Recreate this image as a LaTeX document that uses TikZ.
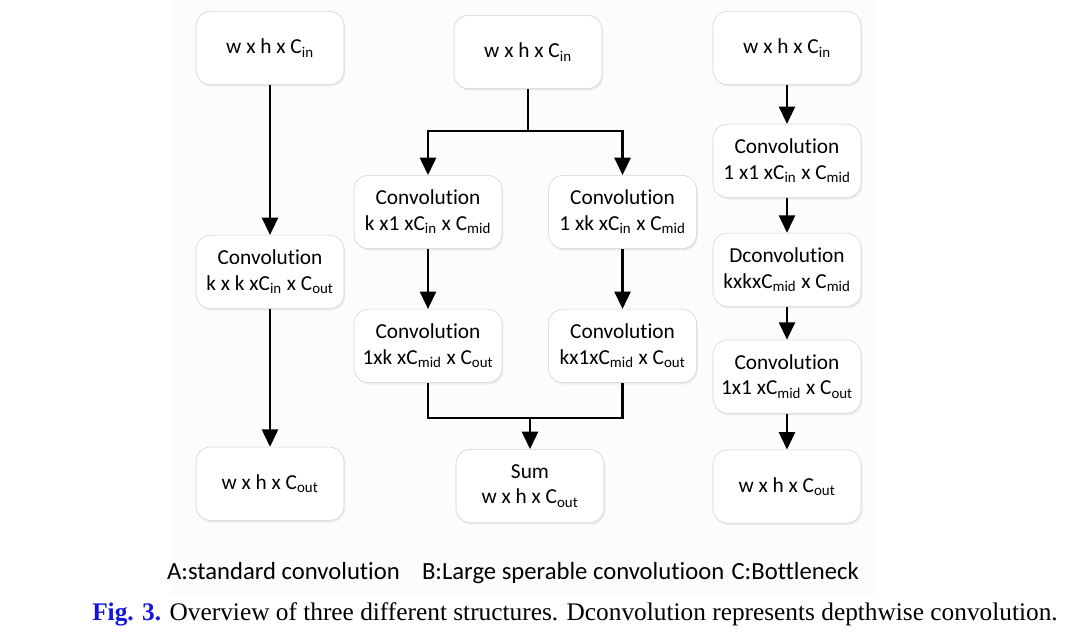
\documentclass[tikz,border=0pt]{standalone}
\usepackage{fontspec}
\setmainfont{Liberation Serif}
\newfontfamily\calfont[Ligatures={NoCommon}, Contextuals={NoAlternate}]{Carlito}
\usepackage{xcolor}
\usepackage{tikz}
\usetikzlibrary{arrows.meta, positioning, calc, shadows}
\definecolor{figblue}{RGB}{20,20,225}
\definecolor{panelbg}{RGB}{252,252,252}
\definecolor{boxline}{RGB}{210,210,210}
\newcommand{\sub}[1]{\textsubscript{#1}}
\tikzset{
  layer/.style={
    draw=boxline,
    fill=white,
    thin,
    rounded corners=11pt,
    align=center,
    inner sep=3pt,
    minimum width=111pt,
    minimum height=55pt,
    drop shadow={shadow xshift=1pt, shadow yshift=-1.5pt, opacity=0.12}
  },
  flow/.style={-{Triangle[length=13pt,width=12pt]}, line width=1.8pt},
  joint/.style={line width=1.8pt}
}
\begin{document}
\begin{tikzpicture}[
    font=\calfont\fontsize{16}{19}\selectfont
]
\useasboundingbox (0,0) rectangle (809.25pt,-477pt);
\fill[panelbg] (127.5pt,0) rectangle (656.25pt,-446pt);

\node[layer] (ain) at (202.5pt,-36pt) {w x h x C\sub{in}};
\node[layer, below=112.5pt of ain] (aconv)
{Convolution\\k x k xC\sub{in} x C\sub{out}};
\node[layer, below=103.5pt of aconv] (aout) {w x h x C\sub{out}};

\node[layer] (bin) at (396pt,-39pt) {w x h x C\sub{in}};
\node[layer] (bc1) at (321pt,-159pt)
{Convolution\\k x1 xC\sub{in} x C\sub{mid}};
\node[layer, right=34.5pt of bc1] (bc2)
{Convolution\\1 xk xC\sub{in} x C\sub{mid}};
\node[layer, below=45pt of bc1] (bc3)
{Convolution\\1xk xC\sub{mid} x C\sub{out}};
\node[layer, below=45pt of bc2] (bc4)
{Convolution\\kx1xC\sub{mid} x C\sub{out}};
\node[layer] (bsum) at (397.5pt,-364.5pt) {Sum\\w x h x C\sub{out}};

\node[layer] (cin) at (590.25pt,-36pt) {w x h x C\sub{in}};
\node[layer, below=29.25pt of cin] (cc1)
{Convolution\\1 x1 xC\sub{in} x C\sub{mid}};
\node[layer, below=26.25pt of cc1] (cdw)
{Dconvolution\\kxkxC\sub{mid} x C\sub{mid}};
\node[layer, below=24.75pt of cdw] (cc3)
{Convolution\\1x1 xC\sub{mid} x C\sub{out}};
\node[layer, below=27pt of cc3] (cout) {w x h x C\sub{out}};

\coordinate (bsplit) at ($(bin.south)+(0,-31.5pt)$);
\coordinate (bmerge) at ($(bsum.north)+(0,23.25pt)$);

\draw[flow] (ain) -- (aconv);
\draw[flow] (aconv) -- (aout);

\draw[joint] (bin.south) -- (bsplit);
\draw[flow] (bsplit) -| (bc1.north);
\draw[flow] (bsplit) -| (bc2.north);
\draw[flow] (bc1) -- (bc3);
\draw[flow] (bc2) -- (bc4);
\draw[joint] (bc3.south) |- (bmerge);
\draw[joint] (bc4.south) |- (bmerge);
\draw[flow] (bmerge) -- (bsum.north);

\draw[flow] (cin) -- (cc1);
\draw[flow] (cc1) -- (cdw);
\draw[flow] (cdw) -- (cc3);
\draw[flow] (cc3) -- (cout);

\node[font=\calfont\fontsize{18.5}{22}\selectfont] (legend) at (384.75pt,-429.75pt)
{A:standard convolution\hspace{0.9em}B:Large sperable convolutioon\hspace{0.3em}C:Bottleneck};
\node[font=\fontsize{19}{22}\selectfont] (caption) at (431.25pt,-461pt)
{\textcolor{figblue}{\textbf{Fig. 3.}} Overview of three different structures. Dconvolution represents depthwise convolution.};
\end{tikzpicture}
\end{document}
